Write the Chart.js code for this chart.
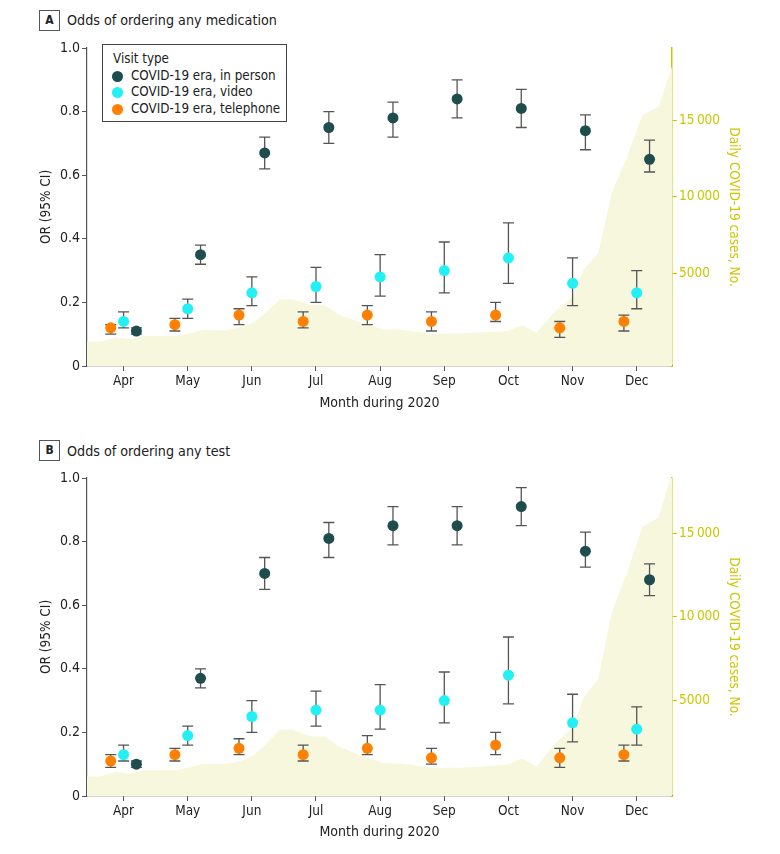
<!DOCTYPE html>
<html>
<head>
<meta charset="utf-8">
<title>Odds of ordering medication and tests by visit type</title>
<script src="https://cdn.jsdelivr.net/npm/chart.js@4.4.1/dist/chart.umd.min.js"></script>
<style>
  body { margin: 0; background: #fff; }
  .panel { position: relative; width: 780px; height: 427px; font-family: 'Liberation Sans Narrow', 'DejaVu Sans Condensed', 'DejaVu Sans', sans-serif; color: #222; }
  .panel canvas { position: absolute; left: 0; top: 0; }
  .tag { position: absolute; left: 39px; width: 19px; height: 19px; border: 1px solid #555; font-weight: bold; font-size: 12px; line-height: 19px; text-align: center; }
  .ttl { position: absolute; left: 67px; font-size: 14.2px; line-height: 20px; }
  .legend { position: absolute; left: 102px; top: 44px; width: 185px; height: 78px; border: 1px solid #444; background: #fff; padding-top: 6px; box-sizing: border-box; font-size: 13.3px; line-height: 16.7px; }
  .legend div { position: relative; padding-left: 28px; white-space: nowrap; }
  .legend .hd { padding-left: 10px; }
  .legend i { position: absolute; left: 9px; top: 3px; width: 11px; height: 11px; border-radius: 50%; }
</style>
</head>
<body>
<div class="panel">
  <div class="tag" style="top:10px">A</div>
  <div class="ttl" style="top:10px">Odds of ordering any medication</div>
  <canvas id="chartA" width="780" height="427"></canvas>
  <div class="legend">
    <div class="hd">Visit type</div>
    <div><i style="background:#1f4d4d"></i>COVID-19 era, in person</div>
    <div><i style="background:#22f0f5"></i>COVID-19 era, video</div>
    <div><i style="background:#ff8000"></i>COVID-19 era, telephone</div>
  </div>
</div>
<div class="panel">
  <div class="tag" style="top:13px">B</div>
  <div class="ttl" style="top:14px">Odds of ordering any test</div>
  <canvas id="chartB" width="780" height="427"></canvas>
</div>
<script>
// Months shown on the x axis (Apr = 0)
const months = ['Apr', 'May', 'Jun', 'Jul', 'Aug', 'Sep', 'Oct', 'Nov', 'Dec'];

// Panel A: odds of ordering any medication
const medPerson   = [0.11, 0.35, 0.67, 0.75, 0.78, 0.84, 0.81, 0.74, 0.65];
const medPersonLo = [0.10, 0.32, 0.62, 0.70, 0.72, 0.78, 0.75, 0.68, 0.61];
const medPersonHi = [0.12, 0.38, 0.72, 0.80, 0.83, 0.90, 0.87, 0.79, 0.71];
const medVideo    = [0.14, 0.18, 0.23, 0.25, 0.28, 0.30, 0.34, 0.26, 0.23];
const medVideoLo  = [0.12, 0.15, 0.19, 0.20, 0.22, 0.23, 0.26, 0.19, 0.18];
const medVideoHi  = [0.17, 0.21, 0.28, 0.31, 0.35, 0.39, 0.45, 0.34, 0.30];
const medPhone    = [0.12, 0.13, 0.16, 0.14, 0.16, 0.14, 0.16, 0.12, 0.14];
const medPhoneLo  = [0.10, 0.11, 0.13, 0.12, 0.13, 0.11, 0.14, 0.09, 0.11];
const medPhoneHi  = [0.13, 0.15, 0.18, 0.17, 0.19, 0.17, 0.20, 0.14, 0.16];

// Panel B: odds of ordering any test
const testPerson   = [0.10, 0.37, 0.70, 0.81, 0.85, 0.85, 0.91, 0.77, 0.68];
const testPersonLo = [0.09, 0.34, 0.65, 0.75, 0.79, 0.79, 0.85, 0.72, 0.63];
const testPersonHi = [0.11, 0.40, 0.75, 0.86, 0.91, 0.91, 0.97, 0.83, 0.73];
const testVideo    = [0.13, 0.19, 0.25, 0.27, 0.27, 0.30, 0.38, 0.23, 0.21];
const testVideoLo  = [0.11, 0.16, 0.20, 0.22, 0.21, 0.23, 0.29, 0.17, 0.16];
const testVideoHi  = [0.16, 0.22, 0.30, 0.33, 0.35, 0.39, 0.50, 0.32, 0.28];
const testPhone    = [0.11, 0.13, 0.15, 0.13, 0.15, 0.12, 0.16, 0.12, 0.13];
const testPhoneLo  = [0.09, 0.11, 0.13, 0.11, 0.13, 0.10, 0.13, 0.09, 0.11];
const testPhoneHi  = [0.13, 0.15, 0.18, 0.16, 0.19, 0.15, 0.20, 0.15, 0.16];

// Daily COVID-19 cases (background area), position in months from Apr
const caseMonth = [-0.57, -0.37, -0.11, 0.10, 0.30, 0.83, 0.98, 1.24, 1.55, 1.81, 2.02, 2.23,
                   2.44, 2.64, 2.91, 3.14, 3.37, 3.73, 4.05, 4.36, 4.83, 5.35, 5.98, 6.21,
                   6.44, 6.70, 7.01, 7.17, 7.40, 7.61, 7.85, 8.09, 8.34, 8.55];
const cases = [490, 490, 780, 650, 870, 870, 1000, 1260, 1220, 1410, 1740, 2460,
               3280, 3280, 2900, 2860, 2250, 1700, 1310, 1260, 1000, 1040, 1200, 1570,
               1080, 2360, 3450, 5200, 6300, 10240, 12640, 15380, 15920, 18550];
const caseTicks = [5000, 10000, 15000];

const FONT = "'Liberation Sans Narrow', 'DejaVu Sans Condensed', 'DejaVu Sans', sans-serif";
const INK = '#222';
const AXIS = '#555';
const YELLOW = '#c8c800';

Chart.defaults.font.family = FONT;
Chart.defaults.color = INK;

// draws the 95% CI whiskers right after the background area, below the dots
const errorBars = {
  id: 'errorBars',
  afterDatasetDraw(chart, args) {
    if (args.index !== chart.data.datasets.length - 1) return;
    const { ctx, scales: { x, y } } = chart;
    ctx.save();
    ctx.strokeStyle = '#555';
    ctx.lineWidth = 1.3;
    chart.data.datasets.forEach(ds => {
      if (!ds.lo) return;
      ds.data.forEach((p, i) => {
        const px = x.getPixelForValue(p.x);
        const top = y.getPixelForValue(ds.hi[i]);
        const bot = y.getPixelForValue(ds.lo[i]);
        ctx.beginPath();
        ctx.moveTo(px, top); ctx.lineTo(px, bot);
        ctx.moveTo(px - 5.5, top); ctx.lineTo(px + 5.5, top);
        ctx.moveTo(px - 5.5, bot); ctx.lineTo(px + 5.5, bot);
        ctx.stroke();
      });
    });
    ctx.restore();
  }
};

function points(values, shift) {
  return values.map((v, i) => ({ x: i + shift, y: v }));
}

function dotSet(label, values, lo, hi, color, shift) {
  return {
    label: label,
    data: points(values, shift),
    lo: lo,
    hi: hi,
    backgroundColor: color,
    pointRadius: 5.5,
    pointBorderWidth: 0,
    showLine: false
  };
}

function formatCases(v) {
  const s = String(v);
  return v >= 10000 ? s.slice(0, -3) + '\u2009' + s.slice(-3) : s;
}

function drawPanel(id, person, video, phone, layout) {
  const areaData = caseMonth.map((m, i) => ({ x: m, y: cases[i] }));
  new Chart(document.getElementById(id), {
    type: 'scatter',
    data: {
      datasets: [
        dotSet('COVID-19 era, in person', person[0], person[1], person[2], '#1f4d4d', 0.2),
        dotSet('COVID-19 era, video', video[0], video[1], video[2], '#22f0f5', 0),
        dotSet('COVID-19 era, telephone', phone[0], phone[1], phone[2], '#ff8000', -0.2),
        {
          type: 'line',
          label: 'Daily COVID-19 cases',
          data: areaData,
          yAxisID: 'y1',
          showLine: true,
          fill: 'start',
          borderWidth: 0,
          borderColor: 'rgba(0,0,0,0)',
          backgroundColor: '#f7f7de',
          pointRadius: 0,
          tension: 0
        }
      ]
    },
    options: {
      responsive: false,
      animation: false,
      layout: { padding: { top: layout.top, left: 0, right: 0, bottom: 0 } },
      plugins: { legend: { display: false }, tooltip: { enabled: false } },
      scales: {
        x: {
          type: 'linear',
          min: -0.57,
          max: 8.55,
          afterBuildTicks: s => { s.ticks = months.map((m, i) => ({ value: i })); },
          afterFit: s => { s.height = layout.xHeight; },
          ticks: { callback: (v, i) => months[i], font: { size: 13.5 }, padding: 2, maxRotation: 0, color: INK },
          grid: { drawOnChartArea: false, tickLength: 5, color: AXIS },
          border: { color: AXIS, width: 1.2 },
          title: { display: true, text: 'Month during 2020', font: { size: 14 }, color: INK,
                   padding: { top: 0, bottom: layout.titlePad } }
        },
        y: {
          position: 'left',
          min: 0,
          max: 1,
          afterBuildTicks: s => { s.ticks = [0, 0.2, 0.4, 0.6, 0.8, 1].map(v => ({ value: v })); },
          afterFit: s => { s.width = 87; },
          ticks: { callback: v => (v === 0 ? '0' : v.toFixed(1)), font: { size: 14 }, padding: 2, color: INK },
          grid: { drawOnChartArea: false, tickLength: 5, color: AXIS },
          border: { color: AXIS, width: 1.2 },
          title: { display: true, text: 'OR (95% CI)', font: { size: 13.5 }, color: INK,
                   padding: { top: 38, bottom: 0 } }
        },
        y1: {
          position: 'right',
          min: layout.caseMin,
          max: layout.caseMax,
          afterBuildTicks: s => { s.ticks = caseTicks.map(v => ({ value: v })); },
          afterFit: s => { s.width = 108; },
          ticks: { callback: formatCases, font: { size: 13.5 }, padding: 2, color: YELLOW },
          grid: { drawOnChartArea: false, tickLength: 5, color: YELLOW },
          border: { color: YELLOW, width: 1.5 },
          title: { display: true, text: 'Daily COVID-19 cases, No.', font: { size: 13.5 }, color: YELLOW,
                   padding: { top: 38, bottom: 0 } }
        }
      }
    },
    plugins: [errorBars]
  });
}

drawPanel('chartA',
  [medPerson, medPersonLo, medPersonHi],
  [medVideo, medVideoLo, medVideoHi],
  [medPhone, medPhoneLo, medPhoneHi],
  { top: 48, xHeight: 61, titlePad: 15, caseMin: -1106, caseMax: 19773 });

drawPanel('chartB',
  [testPerson, testPersonLo, testPersonHi],
  [testVideo, testVideoLo, testVideoHi],
  [testPhone, testPhoneLo, testPhoneHi],
  { top: 51, xHeight: 58, titlePad: 13, caseMin: -665, caseMax: 18280 });
</script>
</body>
</html>
